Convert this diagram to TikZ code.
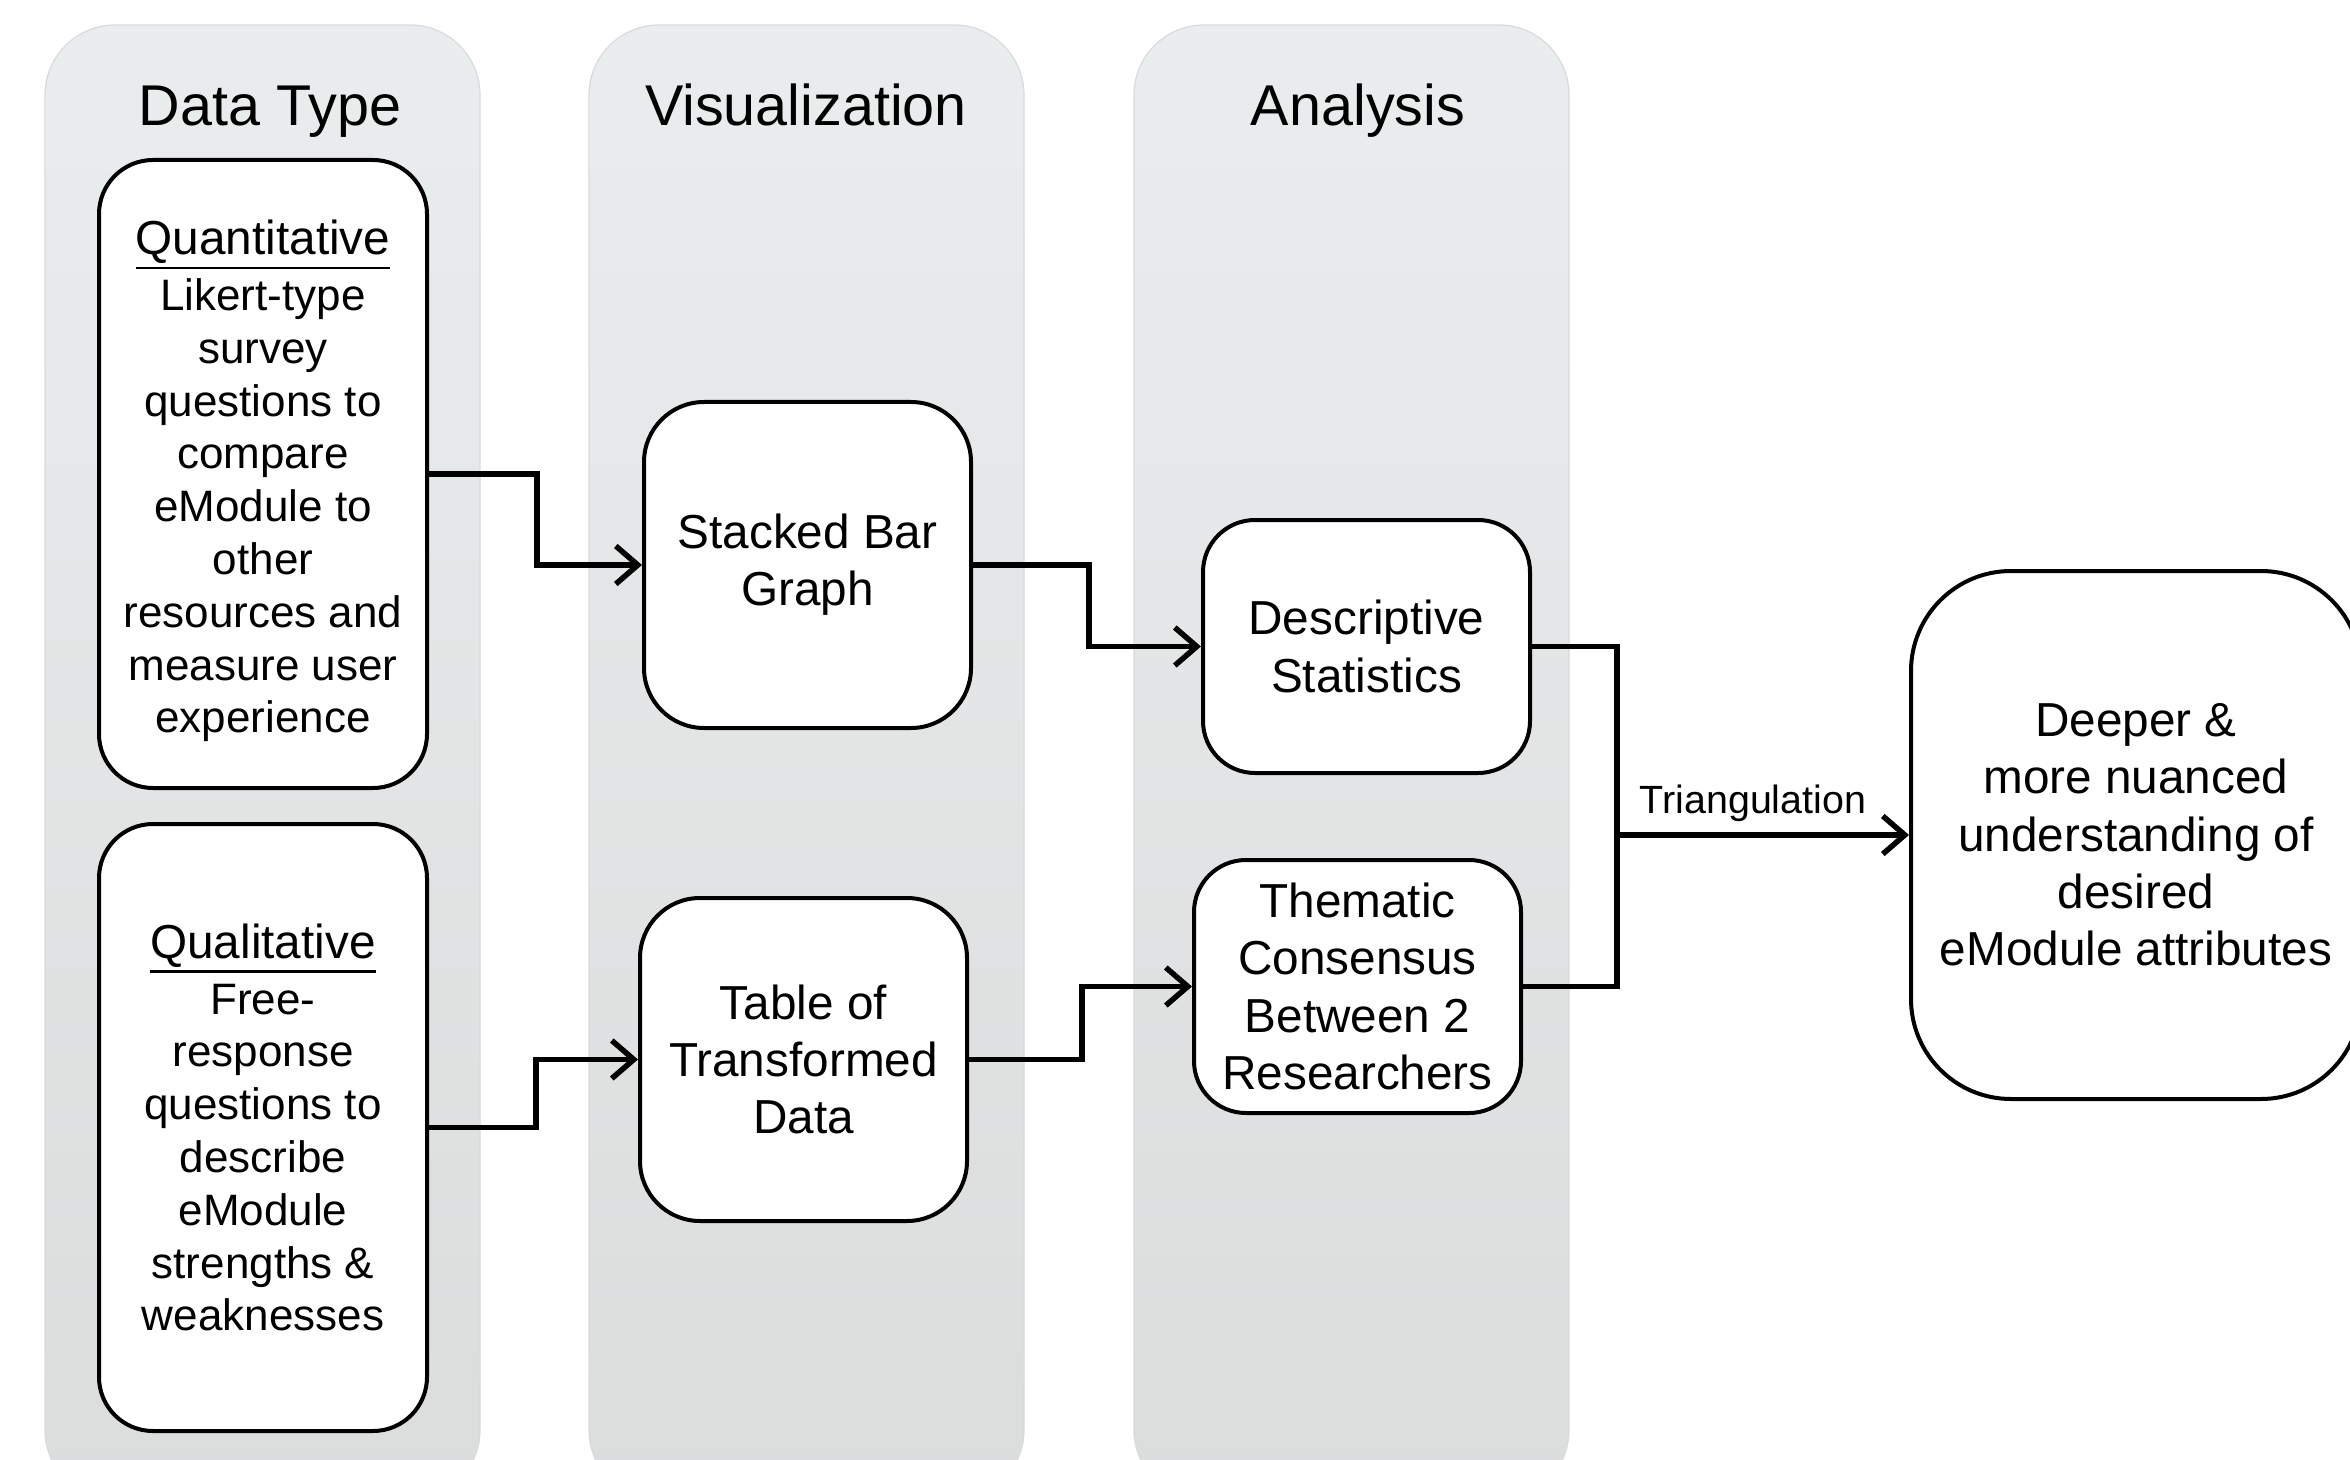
\documentclass[tikz,border=0pt]{standalone}
\usepackage{fontspec}
\setmainfont{Liberation Sans}
\usetikzlibrary{arrows.meta}

\definecolor{laneTop}{HTML}{EAEDEE}
\definecolor{laneBot}{HTML}{DBDCDC}
\definecolor{laneEdge}{HTML}{D8DADB}

% underlined heading inside a source box, with a firmer rule
\newcommand{\srchead}[1]{%
  {\fontsize{23.85}{28.65}\selectfont
   \leavevmode\vtop{\hbox{#1}\kern1.6pt\hrule height 1.1pt}}}

\tikzset{
  lane/.style={top color=laneTop, bottom color=laneBot, draw=laneEdge,
    line width=0.6pt, rounded corners=35pt},
  lanetitle/.style={font=\fontsize{28.75}{34}\selectfont, anchor=base, inner sep=0pt},
  box/.style={draw=black, fill=white, line width=2pt, align=center, inner sep=0pt},
  srcbox/.style={box, rounded corners=27pt, minimum width=164pt,
    font=\fontsize{22}{26.4}\selectfont},
  stepbox/.style={box, rounded corners=28pt, minimum width=163.5pt,
    font=\fontsize{23.85}{28.65}\selectfont},
  conn/.style={line width=2.75pt,
    -{Straight Barb[length=11pt, width=19pt]}},
  joinline/.style={line width=2.75pt},
  tagtext/.style={font=\fontsize{19.7}{23}\selectfont, inner sep=0pt}
}

\begin{document}
\begin{tikzpicture}[x=0.5pt, y=-0.5pt]
  \useasboundingbox (0,0) rectangle (2350,1460);
  \clip (0,0) rectangle (2350,1460);

  % swim lanes
  \path[lane] (45,25) rectangle (480,1500);
  \path[lane] (589,25) rectangle (1024,1500);
  \path[lane] (1134,25) rectangle (1569,1500);

  \node[lanetitle] (tdata) at (270,126) {Data Type};
  \node[lanetitle] (tvis)  at (806,126) {Visualization};
  \node[lanetitle] (tana)  at (1358,126) {Analysis};

  % data sources
  \node[srcbox, minimum height=314pt] (quant) at (263,474)
    {\rule{0pt}{24.3pt}\srchead{Quantitative}\\[1.5pt]Likert-type\\survey\\questions to\\compare\\eModule to\\other\\resources and\\measure user\\experience};
  \node[srcbox, minimum height=303.5pt] (qual) at (263,1127.5)
    {\srchead{Qualitative}\\[1.5pt]Free-\\response\\questions to\\describe\\eModule\\strengths \&\\weaknesses};

  % visualization
  \node[stepbox, minimum height=163pt, rounded corners=30pt] (stacked) at (807.5,565)
    {Stacked Bar\\Graph};
  \node[stepbox, minimum height=161.5pt, rounded corners=30pt] (table) at (803.5,1059.5)
    {Table of\\Transformed\\Data};

  % analysis
  \node[stepbox, minimum height=126.5pt, rounded corners=26pt] (desc) at (1366.5,646.5)
    {Descriptive\\Statistics};
  \node[stepbox, minimum height=126.5pt, rounded corners=26pt] (them) at (1357.5,986.5)
    {Thematic\\Consensus\\Between 2\\Researchers};

  % outcome
  \node[stepbox, minimum width=225pt, minimum height=264pt, rounded corners=50pt] (deeper) at (2136,835)
    {Deeper \&\\more nuanced\\understanding of\\desired\\eModule attributes};

  % connectors
  \draw[conn] (quant.east) -- ++(108,0) |- (stacked.west);
  \draw[conn] (qual.east) -- ++(107,0) |- (table.west);
  \draw[conn] (stacked.east) -- ++(116,0) |- (desc.west);
  \draw[conn] (table.east) -- ++(113,0) |- (them.west);

  \coordinate (join) at (1617,835);
  \draw[joinline] (desc.east) -| (join);
  \draw[joinline] (them.east) -| (join);
  \draw[conn] (join) -- (deeper.west);
  \node[tagtext] (tri) at (1753,803) {Triangulation};
\end{tikzpicture}
\end{document}
